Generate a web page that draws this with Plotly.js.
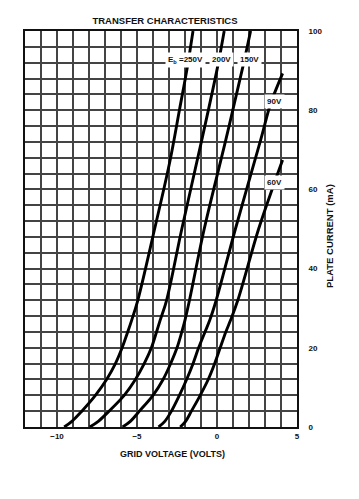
<!DOCTYPE html>
<html>
<head>
<meta charset="utf-8">
<script src="https://cdn.plot.ly/plotly-3.0.1.min.js"></script>
<style>html,body{margin:0;padding:0;background:#fff;}#chart{width:359px;height:499px;}</style>
</head>
<body>
<div id="chart"></div>
<script>
// Plate voltage labels
const plateVoltages = ["250V", "200V", "150V", "90V", "60V"];

// Grid voltage (V) and plate current (mA)
const gridV_250 = [-9.55, -9.05, -8.45, -7.6, -6.9, -6.35, -5.93, -5.58, -5.33, -4.95, -3.9, -2.95, -2.35, -1.85, -1.5];
const plateI_250 = [0, 1.5, 4, 8, 12, 16, 20, 24, 27, 32, 50, 67, 80, 91, 100];

const gridV_200 = [-7.95, -7.4, -6.75, -5.8, -5.1, -4.55, -4.1, -3.78, -3.55, -3.15, -2.2, -0.95, 0.04, 0.45];
const plateI_200 = [0, 1.5, 4, 8, 12, 16, 20, 24, 27, 32, 50, 72.5, 91, 100];

const gridV_150 = [-5.9, -5.4, -4.85, -4.0, -3.37, -2.9, -2.5, -2.2, -2.0, -1.72, -0.8, 0.55, 1.64, 2.1];
const plateI_150 = [0, 1.5, 4, 8, 12, 16, 20, 24, 27, 32, 50, 72.5, 91.4, 100];

const gridV_90 = [-3.65, -3.25, -2.85, -2.35, -1.9, -1.5, -1.15, -0.75, -0.45, -0.05, 1.15, 2.73, 3.26, 3.47, 4.1];
const plateI_90 = [0, 1.5, 4, 8, 12, 16, 20, 24, 27, 32, 50, 72.5, 80.5, 83, 89.3];

const gridV_60 = [-2.3, -1.95, -1.6, -1.05, -0.55, -0.15, 0.2, 0.55, 0.85, 1.3, 2.6, 3.47, 4.1];
const plateI_60 = [0, 1.5, 4, 8, 12, 16, 20, 24, 27, 32, 50, 60.3, 67.4];

// Axis grid positions and tick labels (labels only on every 5 V / 20 mA)
const xGridVals = [-12, -11, -10, -9, -8, -7, -6, -5, -4, -3, -2, -1, 0, 1, 2, 3, 4, 5];
const xLabeled = [-10, -5, 0, 5];
const yGridVals = [0, 4, 8, 12, 16, 20, 24, 28, 32, 36, 40, 44, 48, 52, 56, 60, 64, 68, 72, 76, 80, 84, 88, 92, 96, 100];
const yLabeled = [0, 20, 40, 60, 80, 100];

const FONT = "Liberation Sans, Arial, sans-serif";
const INK = "#111";
const GRID = "#444";

const xTickText = xGridVals.map(v => xLabeled.includes(v) ? (v < 0 ? "\u2212" + Math.abs(v) : String(v)) : "");
const yTickText = yGridVals.map(v => yLabeled.includes(v) ? String(v) : "");

const series = [
  [gridV_250, plateI_250],
  [gridV_200, plateI_200],
  [gridV_150, plateI_150],
  [gridV_90, plateI_90],
  [gridV_60, plateI_60]
];

const traces = series.map((s, i) => ({
  type: "scatter",
  mode: "lines",
  x: s[0],
  y: s[1],
  name: plateVoltages[i],
  line: {color: "#000", width: 2.9, shape: "spline", smoothing: 1.0},
  hoverinfo: "skip"
}));

function lab(text, x, y) {
  return {
    text: "<b>" + text + "</b>", x: x, y: y, xref: "x", yref: "y",
    showarrow: false, bgcolor: "#fff", borderpad: 2,
    font: {family: FONT, size: 8, color: INK},
    xanchor: "center", yanchor: "middle"
  };
}

const layout = {
  width: 359, height: 499,
  margin: {l: 25, r: 62, t: 31, b: 72, pad: 0},
  paper_bgcolor: "#fff", plot_bgcolor: "#fff",
  showlegend: false,
  title: {
    text: "<b>TRANSFER CHARACTERISTICS</b>",
    x: 165 / 359, xanchor: "center",
    y: 1 - 21 / 499, yanchor: "middle",
    font: {family: FONT, size: 9.5, color: INK}
  },
  xaxis: {
    range: [-12, 5],
    tickmode: "array", tickvals: xGridVals, ticktext: xTickText,
    showgrid: true, gridcolor: GRID, gridwidth: 2,
    zeroline: false,
    showline: true, mirror: true, linecolor: INK, linewidth: 2,
    ticks: "",
    tickfont: {family: FONT, size: 8, color: INK, weight: "bold"},
    fixedrange: true
  },
  yaxis: {
    range: [0, 100], side: "right",
    tickmode: "array", tickvals: yGridVals, ticktext: yTickText,
    showgrid: true, gridcolor: GRID, gridwidth: 2,
    zeroline: false,
    showline: true, mirror: true, linecolor: INK, linewidth: 2,
    ticks: "", ticklabelstandoff: 8,
    tickfont: {family: FONT, size: 8, color: INK, weight: "bold"},
    fixedrange: true
  },
  annotations: [
    lab("E<sub>b</sub> =250V", -1.94, 92.7),
    lab(plateVoltages[1], 0.3, 92.7),
    lab(plateVoltages[2], 2.0, 92.7),
    lab(plateVoltages[3], 3.58, 82.1),
    lab(plateVoltages[4], 3.62, 61.7),
    {
      text: "<b>GRID VOLTAGE (VOLTS)</b>", xref: "paper", yref: "paper",
      x: (172 - 25) / 272, y: (427 - 454) / 396, showarrow: false,
      xanchor: "center", yanchor: "middle",
      font: {family: FONT, size: 9, color: INK}
    },
    {
      text: "<b>PLATE CURRENT (mA)</b>", xref: "paper", yref: "paper",
      x: (329 - 25) / 272, y: (427 - 236) / 396, showarrow: false,
      textangle: -90, xanchor: "center", yanchor: "middle",
      font: {family: FONT, size: 9.5, color: INK}
    }
  ]
};

Plotly.newPlot("chart", traces, layout, {displayModeBar: false, staticPlot: true});
</script>
</body>
</html>
